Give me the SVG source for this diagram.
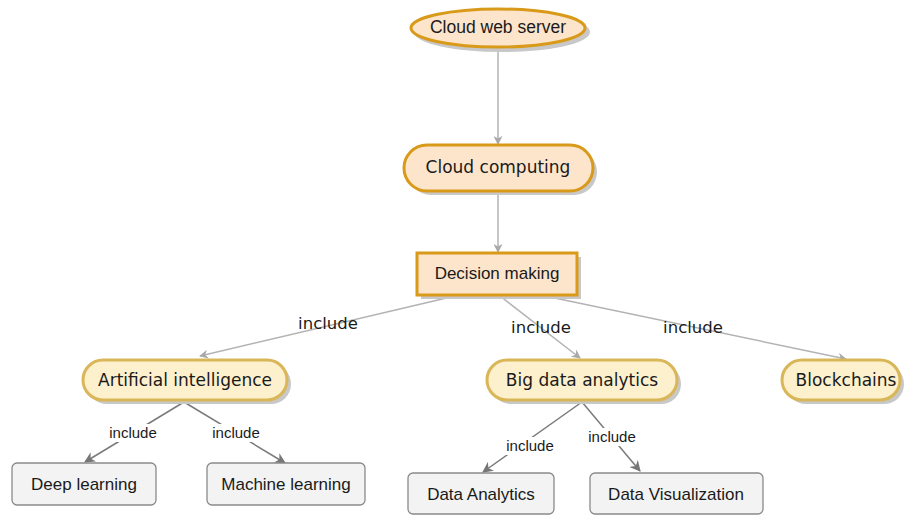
<svg xmlns="http://www.w3.org/2000/svg" width="904" height="515" viewBox="0 0 904 515">
<style>
.a{font-family:"Liberation Sans",Arial,sans-serif;fill:#1a1a1a}
.v{font-family:"DejaVu Sans",Verdana,sans-serif;fill:#1a1a1a}
.sh{fill:#c8c8c8}
.peach{fill:#fde5cc;stroke:#d99a1a;stroke-width:3}
.yel{fill:#fdf0cc;stroke:#d9b657;stroke-width:3}
.grey{fill:#f3f3f3;stroke:#8a8a8a;stroke-width:1.3}
.lt{stroke:#b3b3b3;stroke-width:1.5;fill:none}
.dk{stroke:#7a7a7a;stroke-width:1.5;fill:none}
.lbl{fill:#fff}
</style>
<defs>
<marker id="ma" viewBox="0 0 10 10" refX="9" refY="5" markerWidth="9" markerHeight="9" orient="auto" markerUnits="userSpaceOnUse">
<path d="M0,0 L10,5 L0,10 L3,5 z" fill="#a8a8a8"/>
</marker>
<marker id="mb" viewBox="0 0 10 10" refX="9" refY="5" markerWidth="11" markerHeight="11" orient="auto" markerUnits="userSpaceOnUse">
<path d="M0,0 L10,5 L0,10 L3,5 z" fill="#777"/>
</marker>
</defs>
<g id="connectors">
<line class="lt" x1="498" y1="49" x2="498" y2="144" marker-end="url(#ma)"/>
<line class="lt" x1="498" y1="193" x2="498" y2="252" marker-end="url(#ma)"/>
<line class="lt" x1="455" y1="296" x2="200" y2="356" marker-end="url(#ma)"/>
<line class="lt" x1="500" y1="296" x2="580" y2="358" marker-end="url(#ma)"/>
<line class="lt" x1="545" y1="296" x2="846" y2="359" marker-end="url(#ma)"/>
<text class="v" x="328" y="329" font-size="16.5" text-anchor="middle">include</text>
<text class="v" x="541" y="333" font-size="16.5" text-anchor="middle">include</text>
<text class="v" x="693" y="333" font-size="16.5" text-anchor="middle">include</text>
<line class="dk" x1="184" y1="402" x2="85" y2="462" marker-end="url(#mb)"/>
<line class="dk" x1="184" y1="402" x2="285" y2="463" marker-end="url(#mb)"/>
<line class="dk" x1="582" y1="402" x2="483" y2="472" marker-end="url(#mb)"/>
<line class="dk" x1="582" y1="402" x2="640" y2="471" marker-end="url(#mb)"/>
<rect class="lbl" x="106" y="424" width="54" height="18"/>
<text class="a" x="133" y="438" font-size="15" text-anchor="middle">include</text>
<rect class="lbl" x="209" y="424" width="54" height="18"/>
<text class="a" x="236" y="438" font-size="15" text-anchor="middle">include</text>
<rect class="lbl" x="503" y="437" width="54" height="18"/>
<text class="a" x="530" y="451" font-size="15" text-anchor="middle">include</text>
<rect class="lbl" x="585" y="428" width="54" height="18"/>
<text class="a" x="612" y="442" font-size="15" text-anchor="middle">include</text>
</g>
<g id="cloud-web-server">
<ellipse class="sh" cx="502" cy="32" rx="88" ry="20"/>
<ellipse class="peach" cx="498" cy="28" rx="87" ry="19"/>
<text class="a" x="498" y="33" font-size="17.5" text-anchor="middle">Cloud web server</text>
</g>
<g id="cloud-computing">
<rect class="sh" x="408" y="149" width="189" height="46" rx="23"/>
<rect class="peach" x="404" y="145" width="189" height="46" rx="23"/>
<text class="v" x="498" y="173" font-size="17" text-anchor="middle">Cloud computing</text>
</g>
<g id="decision-making">
<rect class="sh" x="421" y="257" width="160" height="42"/>
<rect class="peach" x="417" y="253" width="160" height="42"/>
<text class="a" x="497" y="279" font-size="17" text-anchor="middle">Decision making</text>
</g>
<g id="artificial-intelligence">
<rect class="sh" x="87" y="364" width="204" height="40" rx="20"/>
<rect class="yel" x="83" y="360" width="204" height="40" rx="20"/>
<text class="v" x="185" y="386" font-size="17" text-anchor="middle">Artificial intelligence</text>
</g>
<g id="big-data-analytics">
<rect class="sh" x="491" y="364" width="190" height="40" rx="20"/>
<rect class="yel" x="487" y="360" width="190" height="40" rx="20"/>
<text class="v" x="582" y="386" font-size="17" text-anchor="middle">Big data analytics</text>
</g>
<g id="blockchains">
<rect class="sh" x="786" y="364" width="118" height="40" rx="20"/>
<rect class="yel" x="782" y="360" width="118" height="40" rx="20"/>
<text class="v" x="846" y="386" font-size="17" text-anchor="middle">Blockchains</text>
</g>
<g id="deep-learning">
<rect class="grey" x="12" y="463" width="144" height="42" rx="5"/>
<text class="a" x="84" y="490" font-size="17" text-anchor="middle">Deep learning</text>
</g>
<g id="machine-learning">
<rect class="grey" x="207" y="463" width="158" height="42" rx="5"/>
<text class="a" x="286" y="490" font-size="17" text-anchor="middle">Machine learning</text>
</g>
<g id="data-analytics">
<rect class="grey" x="408" y="473" width="146" height="41" rx="5"/>
<text class="a" x="481" y="500" font-size="17" text-anchor="middle">Data Analytics</text>
</g>
<g id="data-visualization">
<rect class="grey" x="590" y="473" width="173" height="41" rx="5"/>
<text class="a" x="676" y="500" font-size="17" text-anchor="middle">Data Visualization</text>
</g>
</svg>
